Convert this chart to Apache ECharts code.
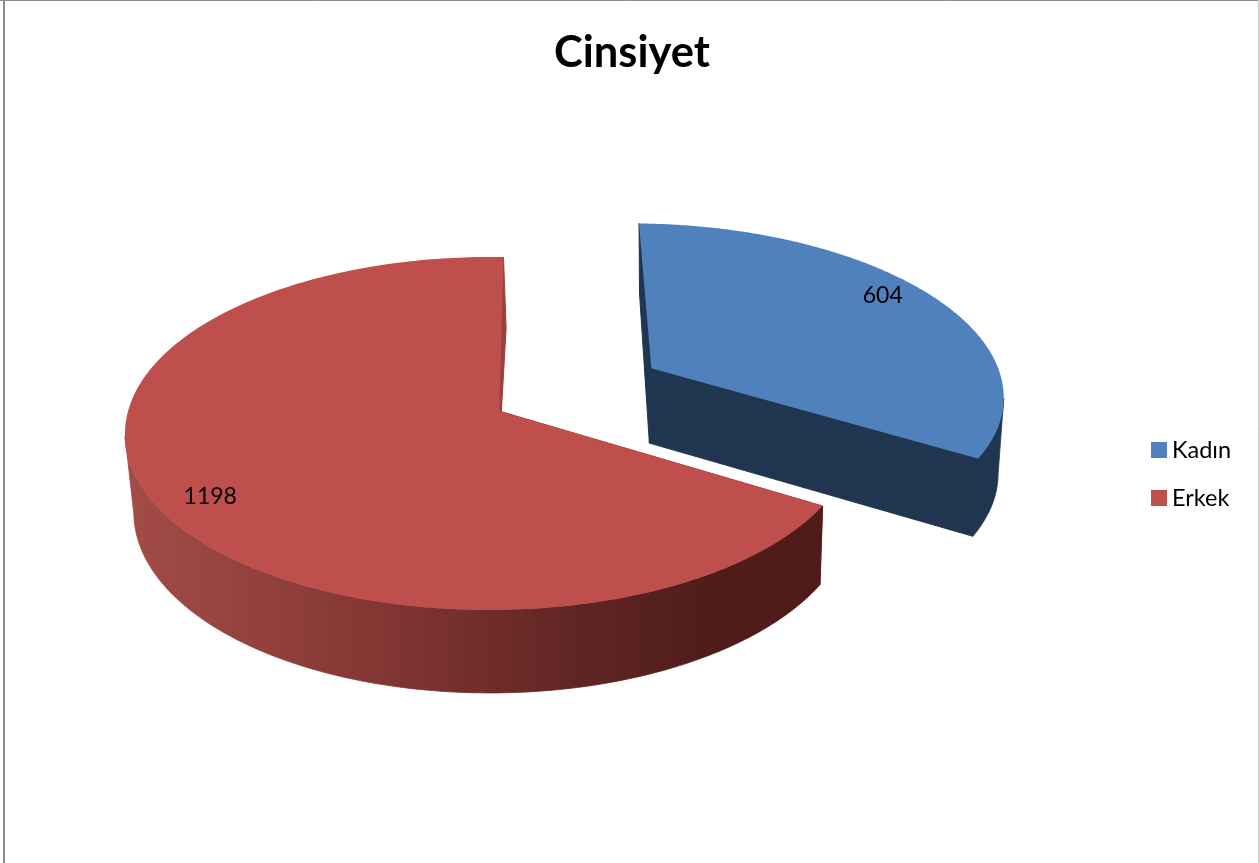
<!DOCTYPE html>
<html>
<head>
<meta charset="utf-8">
<style>html,body{margin:0;padding:0;background:#fff}#c{width:1259px;height:863px}</style>
<script src="https://cdn.jsdelivr.net/npm/echarts@6/dist/echarts.min.js"></script>
</head>
<body>
<div id="c"></div>
<script>
const categories = ['Kadın', 'Erkek'];
const values = [604, 1198];
const titleText = 'Cinsiyet';

const topColors = ['#4f81bd', '#be4f4c'];
const cutWallColors = ['#1f3550', '#9c3f3c'];
const outerWallColors = [
  [[0, '#1f3550'], [1, '#1f3550']],
  [[0, '#a44c47'], [0.35, '#853734'], [0.65, '#5f2523'], [0.85, '#4f1c1a'], [1, '#4f1c1a']]
];
const explode = [0.505, 0];
const explodeTurn = -1.5;
const skew = [0.006, 0.024];
const labelSpot = [[0.873, 56.8], [0.866, 238.4]];

const view = { x0: 499, y0: 411, rx: 362, ry: 173.6, p: 0.127, depth: 76.5, vanishX: 665, shrink: 0.0164, apexLean: -2, firstAngle: 0.8 };
const total = values.reduce((a, b) => a + b, 0);

function planePoint(deg, r, off) {
  const a = deg * Math.PI / 180;
  return [r * Math.sin(a) + off[0], r * Math.cos(a) + off[1]];
}
function project(pt, q) {
  const s = 1 / (1 + view.p * pt[1] + q * pt[0]);
  return { x: view.x0 + view.rx * pt[0] * s, y: view.y0 - view.ry * pt[1] * s, s };
}

function sliceRender(index) {
  return function (params, api) {
    const q = skew[index];
    const upperPoint = (pt) => { const m = project(pt, q); return [m.x, m.y]; };
    const lowerPoint = (pt) => {
      const m = project(pt, q);
      return [m.x + (view.vanishX - m.x) * view.shrink, m.y + view.depth * Math.pow(m.s, 0.6)];
    };
    const value = api.value(0);
    let before = 0;
    for (let i = 0; i < index; i++) before += values[i];
    const a0 = view.firstAngle + before / total * 360;
    const a1 = view.firstAngle + (before + value) / total * 360;
    const mid = (a0 + a1) / 2 + explodeTurn;
    const off = planePoint(mid, explode[index], [0, 0]);
    const arc = [];
    const steps = 240;
    for (let i = 0; i <= steps; i++) arc.push(planePoint(a0 + (a1 - a0) * i / steps, 1, off));
    const topArc = arc.map(upperPoint);
    // The outer wall faces the viewer only where the rim runs right to left.
    const front = arc.filter((pt, i) => {
      const j = Math.min(i, steps - 1);
      return topArc[j + 1][0] < topArc[j][0];
    });
    const wallTop = front.map(upperPoint);
    const wallBottom = front.map(lowerPoint);
    const centre = off;
    const centreTop = upperPoint(centre);
    const centreLow = [centreTop[0] + view.apexLean, lowerPoint(centre)[1]];
    const cut = (edge) => [centreTop, upperPoint(edge), lowerPoint(edge), centreLow];
    const labelPt = upperPoint(planePoint(labelSpot[index][1], labelSpot[index][0], off));
    const cutStyle = { fill: cutWallColors[index], stroke: cutWallColors[index], lineWidth: 1 };
    const wallFill = { type: 'linear', x: 0, y: 0, x2: 1, y2: 0,
      colorStops: outerWallColors[index].map(s => ({ offset: s[0], color: s[1] })) };
    return {
      type: 'group',
      children: [
        { type: 'polygon', shape: { points: cut(arc[0]) }, style: cutStyle },
        { type: 'polygon', shape: { points: wallTop.concat(wallBottom.slice().reverse()) },
          style: { fill: wallFill, stroke: wallFill, lineWidth: 0.8 } },
        { type: 'polygon', shape: { points: cut(arc[arc.length - 1]) }, style: cutStyle },
        { type: 'polygon', shape: { points: [centreTop].concat(topArc) }, style: { fill: topColors[index] } },
        { type: 'text', style: { text: String(value), x: labelPt[0], y: labelPt[1], fill: '#000',
            font: '23px Lato', align: 'center', verticalAlign: 'middle' } }
      ]
    };
  };
}

const chart = echarts.init(document.getElementById('c'), null, { renderer: 'canvas' });
chart.setOption({
  animation: false,
  backgroundColor: '#fff',
  title: { text: titleText, left: 627, top: 26, textAlign: 'center',
    textStyle: { fontFamily: 'Lato', fontWeight: 'bold', fontSize: 43.5, color: '#000' } },
  legend: {
    orient: 'vertical', left: 1146, top: 433, icon: 'rect', itemWidth: 16, itemHeight: 16, itemGap: 24,
    data: categories, selectedMode: false,
    textStyle: { fontFamily: 'Lato', fontSize: 23.5, color: '#000' }
  },
  graphic: [
    { type: 'line', shape: { x1: 0, y1: 0.5, x2: 1259, y2: 0.5 }, style: { stroke: '#8c8c8c', lineWidth: 1 } },
    { type: 'line', shape: { x1: 4, y1: 0, x2: 4, y2: 863 }, style: { stroke: '#8c8c8c', lineWidth: 2 } },
    { type: 'line', shape: { x1: 1258.5, y1: 0, x2: 1258.5, y2: 863 }, style: { stroke: '#cfcfcf', lineWidth: 1 } }
  ],
  series: categories.map((name, i) => ({
    type: 'custom', name, coordinateSystem: 'none', silent: true,
    itemStyle: { color: topColors[i] },
    renderItem: sliceRender(i),
    data: [[values[i]]]
  }))
});
</script>
</body>
</html>
